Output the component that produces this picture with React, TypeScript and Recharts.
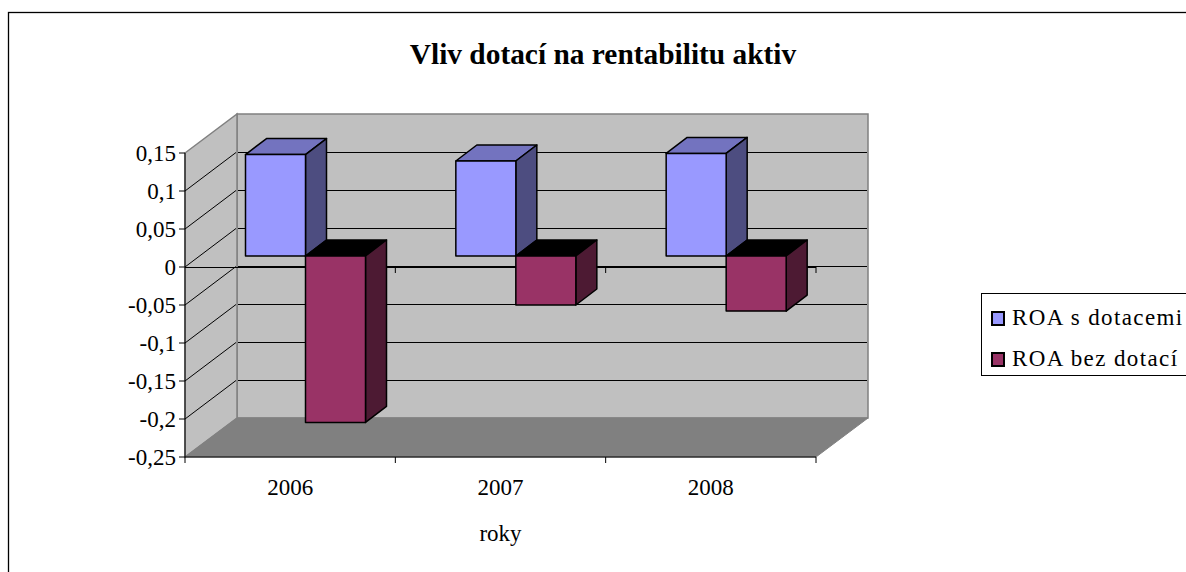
import { Bar, BarChart, Legend, usePlotArea, XAxis, YAxis } from "recharts";

const years = ["2006", "2007", "2008"];
const roaWithSubsidy = [0.1335, 0.125, 0.135];
const roaWithoutSubsidy = [-0.219, -0.0645, -0.0725];
const yTicks = [0.15, 0.1, 0.05, 0, -0.05, -0.1, -0.15, -0.2, -0.25];
const yDomain = [-0.25, 0.15];

const data = years.map((year, i) => ({
  year,
  withSubsidy: roaWithSubsidy[i],
  withoutSubsidy: roaWithoutSubsidy[i],
}));

const FONT = "'Liberation Serif', serif";
// floor / wall depth of the fake 3D box
const WALL_DX = 52;
const WALL_DY = 39;
// bars sit in the middle of that depth
const BAR_SHIFT_X = 15.5;
const BAR_SHIFT_Y = 11;
const BAR_DX = 21;
const BAR_DY = 16;

const pts = (list: number[][]) => list.map((p) => p.join(",")).join(" ");

const Box3D = (props: any) => {
  const { x, y, width, height, front, top, side } = props;
  const x0 = x + BAR_SHIFT_X;
  const x1 = x0 + width;
  const y0 = Math.min(y, y + height) - BAR_SHIFT_Y;
  const y1 = y0 + Math.abs(height);
  return (
    <g stroke="#000" strokeWidth={1.5} strokeLinejoin="round">
      <polygon
        fill={top}
        points={pts([[x0, y0], [x0 + BAR_DX, y0 - BAR_DY], [x1 + BAR_DX, y0 - BAR_DY], [x1, y0]])}
      />
      <polygon
        fill={side}
        points={pts([[x1, y0], [x1 + BAR_DX, y0 - BAR_DY], [x1 + BAR_DX, y1 - BAR_DY], [x1, y1]])}
      />
      <rect x={x0} y={y0} width={width} height={y1 - y0} fill={front} />
    </g>
  );
};

const Backdrop = () => {
  const plot = usePlotArea();
  if (!plot) return null;
  const { x, y, width, height } = plot;
  const right = x + width;
  const bottom = y + height;
  const yOf = (v: number) => y + ((yDomain[1] - v) / (yDomain[1] - yDomain[0])) * height;
  const zero = yOf(0);
  const band = width / years.length;
  return (
    <g>
      <rect x={8.5} y={12.5} width={1400} height={800} fill="#fff" stroke="#000" strokeWidth={1.3} />
      <text x={603} y={64} textAnchor="middle" fontFamily={FONT} fontWeight="bold" fontSize={29.4} fill="#000">
        Vliv dotací na rentabilitu aktiv
      </text>
      <polygon
        fill="#c0c0c0"
        stroke="#808080"
        strokeWidth={1.5}
        points={pts([[x + WALL_DX, y - WALL_DY], [right + WALL_DX, y - WALL_DY], [right + WALL_DX, bottom - WALL_DY], [x + WALL_DX, bottom - WALL_DY]])}
      />
      <polygon
        fill="#c0c0c0"
        stroke="#808080"
        strokeWidth={1.5}
        points={pts([[x, y], [x + WALL_DX, y - WALL_DY], [x + WALL_DX, bottom - WALL_DY], [x, bottom]])}
      />
      <polygon
        fill="#808080"
        stroke="#808080"
        points={pts([[x, bottom], [x + WALL_DX, bottom - WALL_DY], [right + WALL_DX, bottom - WALL_DY], [right, bottom]])}
      />
      {yTicks.slice(1, -1).map((t) => {
        const backY = Math.round(yOf(t) - WALL_DY) + 0.5;
        return (
          <g key={t} stroke="#000" strokeWidth={1}>
            <line x1={x} y1={yOf(t)} x2={x + WALL_DX - 1} y2={backY} />
            <line x1={x + WALL_DX + 1} y1={backY} x2={right + WALL_DX - 1} y2={backY} />
          </g>
        );
      })}
      <line x1={x} y1={Math.round(zero) + 0.5} x2={right} y2={Math.round(zero) + 0.5} stroke="#000" strokeWidth={1} />
      {years.map((yr, i) => (
        <line key={yr} x1={x + band * (i + 1)} y1={zero} x2={x + band * (i + 1)} y2={zero + 6} stroke="#000" />
      ))}
      {[0, 1, 2, 3].map((i) => (
        <line key={i} x1={x + band * i} y1={bottom} x2={x + band * i} y2={bottom + 6} stroke="#000" />
      ))}
    </g>
  );
};

const swatches = [
  { label: "ROA s dotacemi", color: "#9999ff" },
  { label: "ROA bez dotací", color: "#993366" },
];

const LegendBox = () => (
  <div
    style={{
      boxSizing: "border-box",
      width: 260,
      height: 83,
      border: "1px solid #000",
      background: "#fff",
      fontFamily: FONT,
      fontSize: 23,
      color: "#000",
      paddingTop: 7,
    }}
  >
    {swatches.map((s) => (
      <div key={s.label} style={{ display: "flex", alignItems: "center", height: 34, marginBottom: 7 }}>
        <span
          style={{
            boxSizing: "border-box",
            display: "block",
            width: 14,
            height: 15,
            marginLeft: 9,
            marginRight: 7,
            border: "2px solid #000",
            background: s.color,
          }}
        />
        <span style={{ whiteSpace: "nowrap", letterSpacing: 1.4 }}>{s.label}</span>
      </div>
    ))}
  </div>
);

export default function App() {
  return (
    <div style={{ position: "absolute", left: 0, top: 0, width: 1186, height: 572, overflow: "hidden", background: "#fff" }}>
      <BarChart
        width={1186}
        height={572}
        data={data}
        margin={{ top: 153, right: 370, bottom: 15, left: 115 }}
        barCategoryGap={45}
        barGap={0}
      >
        <Backdrop />
        <XAxis
          dataKey="year"
          height={100}
          tickLine={false}
          axisLine={{ stroke: "#000" }}
          tickMargin={16}
          tick={{ fontFamily: FONT, fontSize: 23, fill: "#000" }}
          label={{ value: "roky", position: "insideBottom", offset: 16, fontFamily: FONT, fontSize: 23, fill: "#000" }}
        />
        <YAxis
          type="number"
          width={70}
          domain={yDomain}
          ticks={yTicks}
          interval={0}
          tickSize={6}
          tickMargin={3}
          tickLine={{ stroke: "#000" }}
          axisLine={{ stroke: "#000" }}
          tick={{ fontFamily: FONT, fontSize: 23, fill: "#000" }}
          tickFormatter={(v: number) => String(v).replace(".", ",")}
        />
        <Legend
          verticalAlign="middle"
          content={<LegendBox />}
          wrapperStyle={{ position: "absolute", left: 981, top: 293, width: 260, bottom: "auto", right: "auto" }}
        />
        <Bar
          dataKey="withSubsidy"
          name="ROA s dotacemi"
          isAnimationActive={false}
          shape={(p: any) => <Box3D {...p} front="#9999ff" top="#7373bf" side="#4d4d80" />}
        />
        <Bar
          dataKey="withoutSubsidy"
          name="ROA bez dotací"
          isAnimationActive={false}
          shape={(p: any) => <Box3D {...p} front="#993366" top="#000" side="#4d1a33" />}
        />
      </BarChart>
    </div>
  );
}
